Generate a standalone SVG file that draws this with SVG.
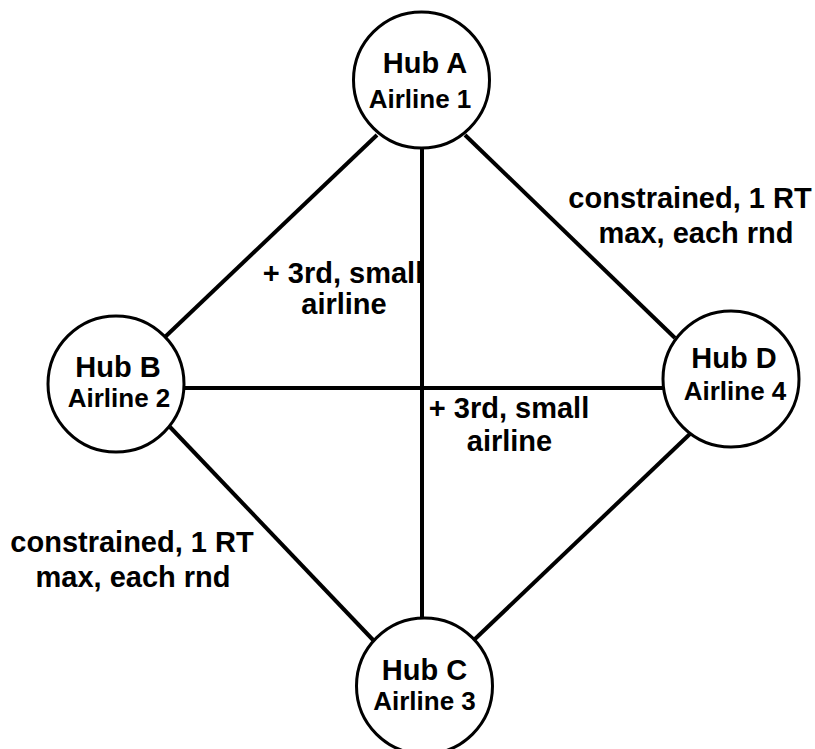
<svg xmlns="http://www.w3.org/2000/svg" width="815" height="749" viewBox="0 0 815 749">
  <style>
    .link { stroke: #000; stroke-width: 4; fill: none; stroke-linecap: butt; }
    .hub { fill: #fff; stroke: #000; stroke-width: 3; }
    text { font-family: "Liberation Sans", Arial, sans-serif; font-weight: bold; fill: #000; text-anchor: middle; }
    .name { font-size: 29px; }
    .carrier { font-size: 26px; }
    .note { font-size: 29px; }
  </style>
  <rect width="815" height="749" fill="#fff"/>

  <!-- routes between hubs -->
  <g id="connectors">
    <line class="link" x1="377" y1="135" x2="165" y2="337"/>
    <line class="link" x1="465" y1="135" x2="675" y2="338"/>
    <line class="link" x1="170" y1="427" x2="375" y2="642"/>
    <line class="link" x1="692" y1="432" x2="475" y2="639"/>
    <line class="link" x1="422" y1="148" x2="422" y2="618"/>
    <line class="link" x1="184" y1="388" x2="663" y2="388"/>
  </g>

  <g id="hub-a">
    <circle class="hub" cx="421.5" cy="80" r="68"/>
    <text class="name" x="425" y="73">Hub A</text>
    <text class="carrier" x="420" y="108">Airline 1</text>
  </g>
  <g id="hub-b">
    <circle class="hub" cx="116" cy="384" r="68"/>
    <text class="name" x="118" y="377">Hub B</text>
    <text class="carrier" x="119" y="407">Airline 2</text>
  </g>
  <g id="hub-d">
    <circle class="hub" cx="731" cy="379" r="68"/>
    <text class="name" x="734" y="368">Hub D</text>
    <text class="carrier" x="735" y="400">Airline 4</text>
  </g>
  <g id="hub-c">
    <circle class="hub" cx="424.5" cy="686" r="68"/>
    <text class="name" x="424.5" y="680">Hub C</text>
    <text class="carrier" x="424.5" y="710">Airline 3</text>
  </g>

  <!-- route notes -->
  <g id="labels">
    <text class="note" x="690" y="208">constrained, 1 RT</text>
    <text class="note" x="696" y="243">max, each rnd</text>
    <text class="note" x="132" y="552">constrained, 1 RT</text>
    <text class="note" x="133" y="587">max, each rnd</text>
    <text class="note" x="343" y="283">+ 3rd, small</text>
    <text class="note" x="344" y="314">airline</text>
    <text class="note" x="509" y="418">+ 3rd, small</text>
    <text class="note" x="509.5" y="451">airline</text>
  </g>
</svg>
